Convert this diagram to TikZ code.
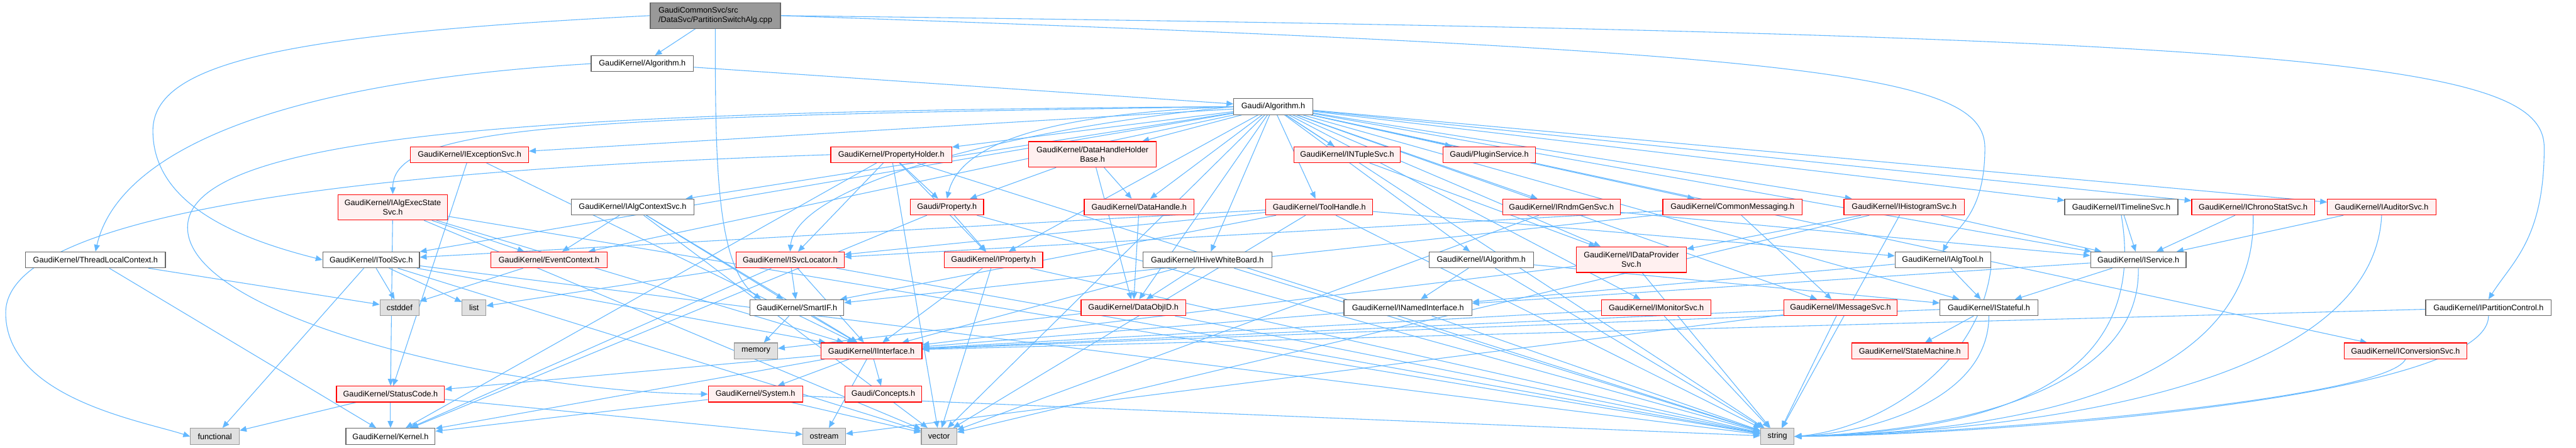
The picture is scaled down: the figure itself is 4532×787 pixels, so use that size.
\documentclass[tikz,border=0pt]{standalone}
\usepackage{fontspec}
\setmainfont{Liberation Sans}
\usetikzlibrary{arrows.meta,calc}
\pgfdeclarelayer{bg}
\pgfsetlayers{bg,main}
\definecolor{edgec}{HTML}{63B8FF}
\definecolor{nborder}{HTML}{666666}
\definecolor{redfill}{HTML}{FFF0F0}
\definecolor{sysfill}{HTML}{E0E0E0}
\definecolor{sysborder}{HTML}{999999}
\definecolor{rootfill}{HTML}{999999}
\newcommand\nd[7]{\node[#1,minimum width=#5pt,minimum height=#6pt] (#2) at (#3,#4) {#7};}
\begin{document}
\begin{tikzpicture}[x=1pt,y=-1pt,
  nb/.style={draw, line width=1.3pt, inner sep=0pt, align=center, font=\fontsize{14}{16.7}\selectfont},
  wb/.style={nb, draw=nborder, fill=white},
  rb/.style={nb, draw=red, fill=redfill},
  gb/.style={nb, draw=sysborder, fill=sysfill},
  ob/.style={nb, draw=nborder, fill=rootfill, align=left},
  e/.style={draw=edgec, line width=1.2pt, -{Triangle[length=12pt,width=10pt]}}]
\useasboundingbox (0,0) rectangle (4532,787);
\nd{ob}{root}{1258.5}{27.5}{229}{45}{GaudiCommonSvc/src\\/DataSvc/PartitionSwitchAlg.cpp}
\nd{wb}{algGK}{1130}{112}{180}{28}{GaudiKernel/Algorithm.h}
\nd{wb}{algG}{2240}{187.5}{139}{28}{Gaudi/Algorithm.h}
\nd{rb}{iexc}{826}{272}{208}{28}{GaudiKernel/IExceptionSvc.h}
\nd{rb}{propholder}{1568}{272}{213}{28}{GaudiKernel/PropertyHolder.h}
\nd{rb}{dhhb}{1922}{271.5}{225}{45}{GaudiKernel/DataHandleHolder\\Base.h}
\nd{rb}{intuple}{2370}{272}{187}{28}{GaudiKernel/INTupleSvc.h}
\nd{rb}{plugin}{2620}{272}{163}{28}{Gaudi/PluginService.h}
\nd{rb}{iaes}{691}{364.5}{193}{45}{GaudiKernel/IAlgExecState\\Svc.h}
\nd{wb}{iactx}{1113}{364}{215}{28}{GaudiKernel/IAlgContextSvc.h}
\nd{rb}{prop}{1666}{364}{129}{28}{Gaudi/Property.h}
\nd{rb}{dh}{2004}{364}{193}{28}{GaudiKernel/DataHandle.h}
\nd{rb}{toolh}{2321}{364}{188}{28}{GaudiKernel/ToolHandle.h}
\nd{rb}{rndm}{2747}{364}{207}{28}{GaudiKernel/IRndmGenSvc.h}
\nd{rb}{cmsg}{3048}{364}{245}{28}{GaudiKernel/CommonMessaging.h}
\nd{rb}{hist}{3350}{364}{212}{28}{GaudiKernel/IHistogramSvc.h}
\nd{wb}{timeline}{3732}{364}{199}{28}{GaudiKernel/ITimelineSvc.h}
\nd{rb}{chrono}{3964}{364}{216}{28}{GaudiKernel/IChronoStatSvc.h}
\nd{rb}{auditor}{4190}{364}{191}{28}{GaudiKernel/IAuditorSvc.h}
\nd{wb}{tlc}{168}{457}{246}{28}{GaudiKernel/ThreadLocalContext.h}
\nd{wb}{toolsvc}{653}{457}{170}{28}{GaudiKernel/IToolSvc.h}
\nd{rb}{evctx}{966}{457}{204}{28}{GaudiKernel/EventContext.h}
\nd{rb}{svcloc}{1390}{457}{190}{28}{GaudiKernel/ISvcLocator.h}
\nd{rb}{iprop}{1748}{457}{173}{28}{GaudiKernel/IProperty.h}
\nd{wb}{hive}{2124}{457}{227}{28}{GaudiKernel/IHiveWhiteBoard.h}
\nd{wb}{ialg}{2606}{457}{184}{28}{GaudiKernel/IAlgorithm.h}
\nd{rb}{idp}{2870}{456.5}{194}{45}{GaudiKernel/IDataProvider\\Svc.h}
\nd{wb}{ialgtool}{3418}{457}{168}{28}{GaudiKernel/IAlgTool.h}
\nd{wb}{isvc}{3762}{457}{168}{28}{GaudiKernel/IService.h}
\nd{gb}{cstddef}{703}{541}{69}{28}{cstddef}
\nd{gb}{list}{834}{541}{42}{28}{list}
\nd{wb}{smartif}{1402}{541}{165}{28}{GaudiKernel/SmartIF.h}
\nd{rb}{dataobjid}{1994}{541}{184}{28}{GaudiKernel/DataObjID.h}
\nd{wb}{inamed}{2477}{541}{225}{28}{GaudiKernel/INamedInterface.h}
\nd{rb}{imon}{2914}{541}{193}{28}{GaudiKernel/IMonitorSvc.h}
\nd{rb}{imsg}{3238}{541}{200}{28}{GaudiKernel/IMessageSvc.h}
\nd{wb}{istateful}{3499}{541}{172}{28}{GaudiKernel/IStateful.h}
\nd{wb}{ipart}{4378}{541}{221}{28}{GaudiKernel/IPartitionControl.h}
\nd{gb}{memory}{1330}{617}{76}{28}{memory}
\nd{rb}{iiface}{1533}{617}{178}{28}{GaudiKernel/IInterface.h}
\nd{rb}{statem}{3360}{617}{205}{28}{GaudiKernel/StateMachine.h}
\nd{rb}{iconv}{4232}{617}{216}{28}{GaudiKernel/IConversionSvc.h}
\nd{rb}{statusc}{687}{693}{190}{28}{GaudiKernel/StatusCode.h}
\nd{rb}{system}{1329}{693}{166}{28}{GaudiKernel/System.h}
\nd{rb}{concepts}{1554}{693}{135}{28}{Gaudi/Concepts.h}
\nd{gb}{functional}{378}{767.5}{86}{29}{functional}
\nd{wb}{kernel}{687}{767.5}{157}{29}{GaudiKernel/Kernel.h}
\nd{gb}{ostream}{1450}{767.5}{75}{29}{ostream}
\nd{gb}{vector}{1652}{767.5}{62}{29}{vector}
\nd{gb}{string}{3127}{767.5}{59}{29}{string}
\begin{pgfonlayer}{bg}
\fill[white] (0,0) rectangle (4532,787);
\foreach \s/\t in {root/algGK, algGK/algG,
 algG/iexc, algG/propholder, algG/dhhb, algG/intuple, algG/plugin, algG/iactx, algG/dh, algG/toolh,
 algG/rndm, algG/cmsg, algG/hist, algG/timeline, algG/chrono, algG/auditor, algG/toolsvc, algG/evctx,
 algG/iprop, algG/hive, algG/ialg, algG/idp, algG/isvc, algG/dataobjid, algG/imon, algG/imsg,
 algG/istateful, algG/iconv, algG/string, algG/vector,
 propholder/prop, propholder/iprop, propholder/svcloc, propholder/kernel, propholder/string, propholder/vector,
 dhhb/prop, dhhb/dh, dhhb/dataobjid, dh/dataobjid,
 prop/iprop, prop/kernel, prop/string,
 toolh/ialgtool, toolh/toolsvc, toolh/svcloc, toolh/smartif, toolh/string, toolh/vector,
 intuple/idp, rndm/isvc, rndm/vector,
 cmsg/imsg, cmsg/smartif, cmsg/svcloc,
 hist/idp, hist/isvc, hist/string, hist/vector,
 timeline/isvc, chrono/isvc, auditor/isvc,
 iexc/iiface, iexc/statusc,
 iaes/evctx, iaes/iiface, iaes/statusc, iaes/string, iaes/vector,
 iactx/evctx, iactx/iiface, iactx/smartif, iactx/vector,
 tlc/cstddef, tlc/kernel,
 toolsvc/functional, toolsvc/cstddef, toolsvc/list, toolsvc/iiface, toolsvc/string, toolsvc/vector,
 evctx/cstddef,
 svcloc/list, svcloc/smartif, svcloc/iiface, svcloc/string, svcloc/kernel,
 iprop/iiface, iprop/vector, iprop/string,
 hive/dataobjid, hive/iiface, hive/string,
 ialg/inamed, ialg/istateful, ialg/string,
 idp/iiface, idp/string,
 ialgtool/inamed, ialgtool/istateful,
 isvc/inamed, isvc/istateful,
 smartif/memory, smartif/iiface,
 dataobjid/memory, dataobjid/string,
 inamed/iiface, inamed/string,
 imon/iiface, imon/string,
 imsg/iiface, imsg/string, imsg/ostream,
 istateful/iiface, istateful/statem,
 ipart/iiface,
 iiface/statusc, iiface/system, iiface/concepts, iiface/ostream, iiface/kernel,
 statusc/functional, statusc/kernel, statusc/ostream,
 system/kernel, system/string, system/vector}
 \draw[e] (\s) -- (\t);
% curved connectors
\draw[e] (root.west) .. controls (500,60) and (269,110) .. (269,230) .. controls (269,360) and (420,420) .. (toolsvc.west);
\draw[e] (root.east) .. controls (3200,90) and (3492,130) .. (3492,260) .. controls (3492,380) and (3440,400) .. (ialgtool.north);
\draw[e] (root.east) .. controls (4100,60) and (4476,110) .. (4476,260) .. controls (4476,420) and (4420,460) .. (ipart.north);
\draw[e] (root.south) .. controls (1258,300) and (1262,470) .. ($(smartif.north west)!0.12!(smartif.north east)$);
\draw[e] (algGK.west) .. controls (400,150) and (200,300) .. (tlc.north);
\draw[e] (algG.west) .. controls (1000,205) and (691,220) .. (iaes.north);
\draw[e] (algG.west) .. controls (1850,200) and (1690,250) .. (prop.north);
\draw[e] (algG.west) .. controls (1750,230) and (1400,330) .. (svcloc.north);
\draw[e] (algG.west) .. controls (1000,195) and (330,230) .. (330,400) .. controls (330,560) and (900,690) .. (system.west);
\draw[e] (propholder.west) .. controls (600,300) and (10,380) .. (10,550) .. controls (10,700) and (250,740) .. (functional.west);
\draw[e] (timeline.south) .. controls (3787,700) and (3450,760) .. (string.east);
\draw[e] (chrono.south) .. controls (3972,700) and (3500,760) .. (string.east);
\draw[e] (auditor.south) .. controls (4174,700) and (3500,760) .. (string.east);
\draw[e] (ipart.south) .. controls (4378,700) and (3500,765) .. (string.east);
\draw[e] (iconv.south) .. controls (4200,700) and (3500,762) .. (string.east);
\draw[e] (isvc.south) .. controls (3767,700) and (3400,760) .. (string.east);
\draw[e] (istateful.south) .. controls (3499,700) and (3300,760) .. (string.east);
\draw[e] (ialgtool.south east) .. controls (3480,650) and (3300,755) .. (string.east);
\end{pgfonlayer}
\end{tikzpicture}
\end{document}
